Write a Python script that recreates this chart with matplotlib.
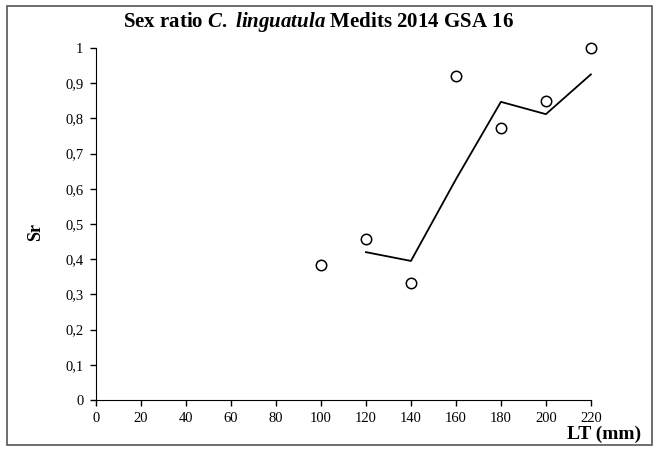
import matplotlib.pyplot as plt
from matplotlib.patches import Rectangle

# Data
lt_mm = [100, 120, 140, 160, 180, 200, 220]
sex_ratio = [0.383, 0.457, 0.333, 0.92, 0.773, 0.85, 1.0]
trend_x = [120, 140, 160, 180, 200, 220]
trend_y = [0.42, 0.395, 0.627, 0.847, 0.812, 0.925]
x_ticks = list(range(0, 221, 20))
y_ticks = [0, 0.1, 0.2, 0.3, 0.4, 0.5, 0.6, 0.7, 0.8, 0.9, 1]
y_labels = ["0", "0,1", "0,2", "0,3", "0,4", "0,5", "0,6", "0,7", "0,8", "0,9", "1"]

plt.rcParams['font.family'] = ['Liberation Serif', 'DejaVu Serif']
plt.rcParams['mathtext.fontset'] = 'custom'
plt.rcParams['mathtext.it'] = 'Liberation Serif:italic:bold'
plt.rcParams['mathtext.rm'] = 'Liberation Serif:bold'
plt.rcParams['mathtext.bf'] = 'Liberation Serif:bold'

fig = plt.figure(figsize=(6.58, 4.51), dpi=100)
ax = fig.add_axes([0.1459, 0.1131, 0.7521, 0.7805])

# observed ratios (open circles) and trend line
ax.plot(lt_mm, sex_ratio, 'o', mfc='white', mec='black', mew=1.1, ms=7.5, zorder=3, clip_on=False)
ax.plot(trend_x, trend_y, '-', color='black', lw=1.3, clip_on=False)

ax.set_xlim(0, 220)
ax.set_ylim(0, 1)
ax.set_xticks(x_ticks)
ax.set_xticklabels([str(v) for v in x_ticks], fontsize=10.5)
ax.set_yticks(y_ticks)
ax.set_yticklabels(y_labels, fontsize=10.5)
ax.tick_params(direction='out', length=4, width=1, pad=5)
ax.spines['top'].set_visible(False)
ax.spines['right'].set_visible(False)

fig.text(0.484, 0.951, 'Sex ratio $\\it{C.}$ $\\it{linguatula}$ Medits 2014 GSA 16',
         ha='center', va='center', fontsize=15, fontweight='bold')
fig.text(0.974, 0.0266, 'LT (mm)', ha='right', va='baseline', fontsize=14, fontweight='bold')
fig.text(0.054, 0.486, 'Sr', rotation=90, ha='center', va='center', fontsize=13, fontweight='bold')

# outer chart border
fig.patches.append(Rectangle((0.011, 0.013), 0.98, 0.973, transform=fig.transFigure,
                             fill=False, edgecolor='#555555', lw=1.2))

fig.savefig('out.png', dpi=100)
